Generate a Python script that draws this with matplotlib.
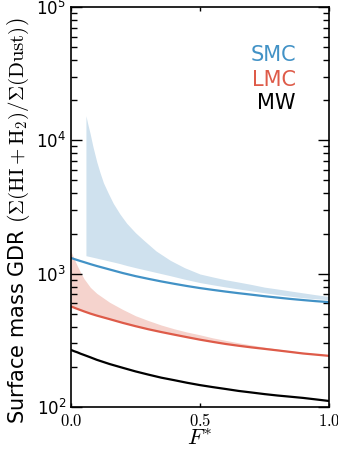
import numpy as np
import matplotlib
matplotlib.use('Agg')
import matplotlib.pyplot as plt

plt.rcParams['mathtext.fontset'] = 'cm'
plt.rcParams['font.family'] = ['DejaVu Sans']

# F* grid for the lines and the LMC band
fstar = [0.0, 0.0125, 0.025, 0.0375, 0.05, 0.075, 0.1, 0.15, 0.2, 0.25, 0.3,
         0.35, 0.4, 0.45, 0.5, 0.55, 0.6, 0.65, 0.7, 0.75, 0.8, 0.85,
         0.9, 0.95, 1.0]
gdr_mw = [268, 262, 257, 251, 246, 236, 226, 210, 197, 185, 175,
          166, 159, 152, 146, 141, 136.5, 132, 128.5, 125, 122, 119.5,
          117, 114, 111]
gdr_smc = [1312, 1288, 1265, 1243, 1222, 1180, 1142, 1075, 1012, 959, 915,
           875, 840, 808, 780, 756, 734, 714, 696, 678, 662, 647,
           634, 622, 612]
gdr_lmc = [568, 556, 544, 533, 522, 502, 485, 456, 428, 404, 383,
           365, 349, 334, 320, 308, 297, 288, 280, 273, 266, 259,
           252, 247, 242]
lmc_upper = [1470, 1290, 1140, 1020, 920, 790, 712, 610, 540, 484, 445,
             412, 386, 365, 348, 330, 316, 303, 292, 281, 272, 264,
             257, 251, 246]

# SMC band starts a bit after F*=0
fstar_smc = [0.058, 0.065, 0.074, 0.085, 0.1, 0.113, 0.126, 0.145, 0.164,
             0.19, 0.216, 0.25, 0.281, 0.33, 0.385, 0.44, 0.5, 0.55, 0.6,
             0.65, 0.7, 0.75, 0.8, 0.85, 0.9, 0.95, 1.0]
smc_upper = [15300, 13300, 11300, 9000, 6900, 5700, 4800, 4000, 3370,
             2800, 2390, 2030, 1790, 1480, 1260, 1110, 995, 945, 900,
             865, 830, 793, 768, 742, 718, 695, 675]
smc_lower = [1365, 1355, 1343, 1328, 1308, 1290, 1274, 1248, 1224,
             1190, 1152, 1110, 1075, 1022, 966, 910, 858, 825, 795,
             768, 743, 719, 697, 678, 660, 648, 638]

c_smc = '#4292c6'
c_lmc = '#de5b49'

fig = plt.figure(figsize=(3.38, 4.54), dpi=100)
ax = fig.add_axes([0.210, 0.1035, 0.763, 0.881])

ax.fill_between(fstar_smc, smc_lower, smc_upper, color='#cfe1ee', lw=0)
ax.fill_between(fstar, gdr_lmc, lmc_upper, color='#f5d3cd', lw=0)

ax.plot(fstar, gdr_smc, color=c_smc, lw=1.6)
ax.plot(fstar, gdr_lmc, color=c_lmc, lw=1.6)
ax.plot(fstar, gdr_mw, color='black', lw=1.6)

ax.set_yscale('log')
ax.set_xlim(0, 1)
ax.set_ylim(1e2, 1e5)

ax.set_xticks([0.0, 0.5, 1.0], ['$0.0$', '$0.5$', '$1.0$'])
ax.tick_params(axis='both', which='both', direction='in', top=True, right=True,
               labelsize=12)
ax.tick_params(axis='y', which='major', length=8, width=1)
ax.tick_params(axis='y', which='minor', length=4, width=1)
ax.tick_params(axis='x', which='major', length=3, width=1)
for s in ax.spines.values():
    s.set_linewidth(1.2)

ax.set_xlabel('$F^{*}$', fontsize=16, labelpad=-1)
ax.set_ylabel('Surface mass GDR $\\left(\\Sigma(\\mathrm{HI}+\\mathrm{H_2})/\\Sigma(\\mathrm{Dust})\\right)$',
              fontsize=15)
ax.yaxis.set_label_coords(-0.15, 0.465)

ax.text(0.872, 0.88, 'SMC', color=c_smc, fontsize=15, ha='right', va='center',
        transform=ax.transAxes)
ax.text(0.872, 0.8175, 'LMC', color=c_lmc, fontsize=15, ha='right', va='center',
        transform=ax.transAxes)
ax.text(0.872, 0.76, 'MW', color='black', fontsize=15, ha='right', va='center',
        transform=ax.transAxes)

fig.savefig('out.png', dpi=100)
plt.close(fig)
